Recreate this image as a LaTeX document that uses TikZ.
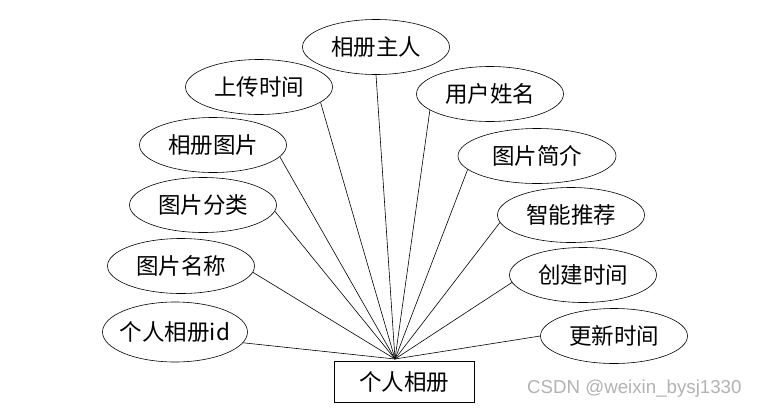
\documentclass[tikz,border=0pt]{standalone}
\usepackage{fontspec}
\setmainfont{Liberation Sans}
\newfontfamily\cjk{Noto Sans CJK SC}
\usetikzlibrary{shapes.geometric}
\begin{document}
\begin{tikzpicture}[x=1pt,y=-1pt,
  attr/.style={ellipse,draw,line width=0.6pt,minimum width=147pt,minimum height=55pt,inner sep=0pt,font=\cjk\fontsize{22.5}{26}\selectfont},
  ent/.style={rectangle,draw,line width=0.6pt,minimum width=140pt,minimum height=41pt,inner sep=0pt,font=\cjk\fontsize{22.5}{26}\selectfont},
  link/.style={line width=0.6pt},
  wmark/.style={text=black!30,font=\fontsize{18.7}{22}\selectfont}]
\useasboundingbox (0,0) rectangle (758,408);
\node[attr] (a1) at (376,47) {相册主人};
\node[attr] (a2) at (259,87) {上传时间};
\node[attr] (a3) at (213,145) {相册图片};
\node[attr] (a4) at (203,205) {图片分类};
\node[attr] (a5) at (181,266) {图片名称};
\node[attr,minimum width=145pt,minimum height=60pt] (a6) at (175,332) {\makebox[0pt]{个人相册id}};
\node[attr] (b1) at (490,94) {用户姓名};
\node[attr,minimum width=158pt] (b2) at (537,156) {图片简介};
\node[attr] (b3) at (571,215) {智能推荐};
\node[attr] (b4) at (583,275) {创建时间};
\node[attr] (b5) at (614,336) {更新时间};
\node[ent] (e) at (404,381.5) {个人相册};
\node[wmark,anchor=west,inner sep=0pt] (wm) at (527,388.5) {CSDN @weixin\_bysj1330};
\coordinate (hub) at (395,359);
\draw[link] (a1.south) -- (hub);
\draw[link] (a2.-14) -- (hub);
\draw[link] (a3.-10) -- (hub);
\draw[link] (a4.-5) -- (hub);
\draw[link] (a5.-5) -- (hub);
\draw[link] (a6.-9) -- (hub);
\draw[link] (b1.195) -- (hub);
\draw[link] (b2.191) -- (hub);
\draw[link] (b3.186) -- (hub);
\draw[link] (b4.186) -- (hub);
\draw[link] (b5.west) -- (hub);
\end{tikzpicture}
\end{document}
